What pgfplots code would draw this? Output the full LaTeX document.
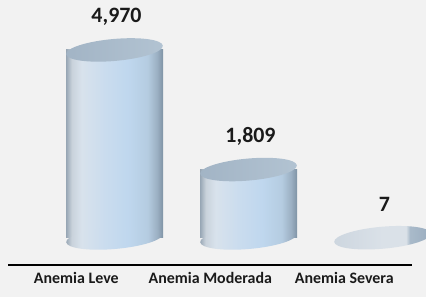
\documentclass[border=0pt]{standalone}
\usepackage{pgfplots}
\pgfplotsset{compat=1.18}
\usepackage{fontspec}
\setmainfont{Carlito}
\definecolor{bgc}{HTML}{F2F2F2}
\definecolor{c0}{HTML}{97A6B4}
\definecolor{c1}{HTML}{C9D2DB}
\definecolor{c2}{HTML}{D8E2EC}
\definecolor{c3}{HTML}{CADCEE}
\definecolor{c4}{HTML}{BFD7EE}
\definecolor{c5}{HTML}{B5CCE1}
\definecolor{c6}{HTML}{9BAFC2}
\definecolor{c7}{HTML}{7F93A5}
\definecolor{t0}{HTML}{A2B4C5}
\definecolor{t1}{HTML}{B2C3D2}
\definecolor{s0}{HTML}{CDD6DF}
\definecolor{s1}{HTML}{DAE1E8}
\definecolor{s2}{HTML}{A9BACA}
\definecolor{s3}{HTML}{9AADBF}
\definecolor{txt}{HTML}{1A1A1A}
\pgfdeclarehorizontalshading{cylbody}{100bp}{color(0bp)=(c0); color(25bp)=(c0); color(28bp)=(c1); color(33bp)=(c2); color(45bp)=(c3); color(57bp)=(c4); color(67bp)=(c5); color(72bp)=(c6); color(75bp)=(c7); color(100bp)=(c7)}
\pgfdeclarehorizontalshading{topshade}{100bp}{color(0bp)=(t0); color(25bp)=(t0); color(75bp)=(t1); color(100bp)=(t1)}
\pgfdeclarehorizontalshading{flatshade}{100bp}{color(0bp)=(s0); color(25bp)=(s0); color(50bp)=(s1); color(62bp)=(s1); color(64bp)=(s2); color(75bp)=(s3); color(100bp)=(s3)}
\pgfdeclareplotmark{cyltop}{%
  \pgfscope
  \pgftransformrotate{5}%
  \pgfpathellipse{\pgfpointorigin}{\pgfqpoint{48.5bp}{0bp}}{\pgfqpoint{0bp}{11bp}}%
  \pgfshadepath{topshade}{0}%
  \pgfusepath{}%
  \endpgfscope
}
\pgfdeclareplotmark{cylflat}{%
  \pgfscope
  \pgftransformrotate{5}%
  \pgfpathellipse{\pgfpointorigin}{\pgfqpoint{48.5bp}{0bp}}{\pgfqpoint{0bp}{11bp}}%
  \pgfshadepath{flatshade}{0}%
  \pgfusepath{}%
  \endpgfscope
}
\pgfdeclareplotmark{cylbot}{%
  \pgfscope
  \pgftransformrotate{5}%
  \pgfpathellipse{\pgfpointorigin}{\pgfqpoint{48.5bp}{0bp}}{\pgfqpoint{0bp}{11bp}}%
  \pgfshadepath{cylbody}{0}%
  \pgfusepath{}%
  \endpgfscope
}
\begin{document}
\begin{tikzpicture}
\path[use as bounding box, fill=bgc] (0,0) rectangle (426bp,297bp);
\begin{axis}[
  at={(8bp,32bp)}, anchor=south west,
  scale only axis, width=404bp, height=265bp,
  xmin=-0.795, xmax=2.220, ymin=-714, ymax=6290,
  axis x line=bottom, axis y line=none,
  x axis line style={-, line width=1.6bp, black},
  xtick={-0.285,0.715,1.715},
  xticklabels={Anemia Leve, Anemia Moderada, Anemia Severa},
  major tick length=0pt, ytick=\empty,
  xticklabel style={font=\fontsize{16}{19}\selectfont\bfseries, text=txt, yshift=-4bp},
  clip=false,
  cylbar/.style={ybar, bar width=0.724, bar shift=0pt, draw=none, shade, shading=cylbody},
  vlab/.style={point meta=explicit symbolic, nodes near coords,
    every node near coord/.append style={anchor=center, yshift=33bp, xshift=2bp, font=\fontsize{22}{26}\selectfont\bfseries, text=txt}},
]
\addplot[only marks, mark=cylbot] coordinates {(0,0) (1,0)};
\addplot[cylbar] coordinates {(0,4970)};
\addplot[cylbar] coordinates {(1,1809)};
\addplot[only marks, mark=cyltop, vlab] coordinates {(0,4970) [4,970] (1,1809) [1,809]};
\addplot[only marks, mark=cylflat, vlab] coordinates {(2,7) [7]};
\end{axis}
\end{tikzpicture}
\end{document}
